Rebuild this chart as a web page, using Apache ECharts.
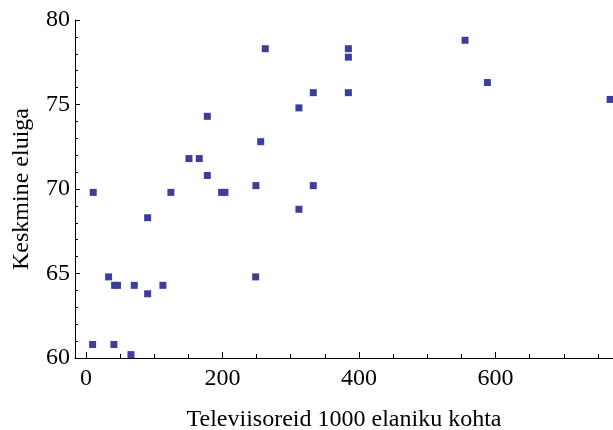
<!DOCTYPE html>
<html>
<head>
<meta charset="utf-8">
<script src="https://cdn.jsdelivr.net/npm/echarts@6/dist/echarts.min.js"></script>
<style>
html,body{margin:0;padding:0;background:#fff;}
#chart{width:613px;height:430px;}
</style>
</head>
<body>
<div id="chart"></div>
<script>
const tvPer1000 = [10.7, 90.4, 124.5, 150.9, 166, 177.8, 177.8, 198.8, 203.7, 249, 256, 262.7, 312, 312, 333, 333,
  33.2, 42, 46.3, 70.8, 90.4, 112.8, 9.8, 41, 66, 248.6, 384.4, 384.4, 384.4, 555.3, 588, 767.8];
const lifeExpectancy = [69.8, 68.3, 69.8, 71.8, 71.8, 74.3, 70.8, 69.8, 69.8, 70.2, 72.8, 78.3, 74.8, 68.8, 75.7, 70.2,
  64.8, 64.3, 64.3, 64.3, 63.8, 64.3, 60.8, 60.8, 60.2, 64.8, 78.3, 77.8, 75.7, 78.8, 76.3, 75.3];
const xMajorTicks = [0, 200, 400, 600];
const xMinorTicks = [50, 100, 150, 250, 300, 350, 450, 500, 550, 650, 700, 750];
const xTitle = 'Televiisoreid 1000 elaniku kohta';
const yTitle = 'Keskmine eluiga';

const points = tvPer1000.map((x, i) => [x, lifeExpectancy[i]]);
const font = '"Liberation Serif", "Times New Roman", serif';
const chart = echarts.init(document.getElementById('chart'), null, {renderer: 'canvas'});
chart.setOption({
  animation: false,
  grid: {left: 75, right: 0, top: 20, bottom: 72, containLabel: false, outerBoundsMode: 'none'},
  xAxis: [{
    type: 'value', min: -16, max: 772, position: 'bottom',
    name: xTitle, nameLocation: 'middle', nameGap: 50,
    nameTextStyle: {fontFamily: font, fontSize: 24, color: '#000'},
    axisLine: {show: true, onZero: false, lineStyle: {color: '#000', width: 1}},
    axisTick: {show: true, inside: true, length: 6, customValues: xMajorTicks, lineStyle: {color: '#000'}},
    axisLabel: {show: true, customValues: xMajorTicks, margin: 9, fontFamily: font, fontSize: 24, color: '#000'},
    splitLine: {show: false}
  }, {
    type: 'value', min: -16, max: 772, position: 'bottom', offset: 0,
    axisLine: {show: false, onZero: false},
    axisTick: {show: true, inside: true, length: 4, customValues: xMinorTicks, lineStyle: {color: '#000'}},
    axisLabel: {show: false},
    splitLine: {show: false}
  }],
  yAxis: {
    type: 'value', min: 60, max: 80, interval: 5,
    name: yTitle, nameLocation: 'middle', nameGap: 41, nameRotate: 90,
    nameTextStyle: {fontFamily: font, fontSize: 24, color: '#000'},
    axisLine: {show: true, onZero: false, lineStyle: {color: '#000', width: 1}},
    axisTick: {show: true, inside: true, length: 5, lineStyle: {color: '#000'}},
    minorTick: {show: true, splitNumber: 5, length: 3, lineStyle: {color: '#000'}},
    axisLabel: {margin: 5, fontFamily: font, fontSize: 24, color: '#000'},
    splitLine: {show: false},
    minorSplitLine: {show: false}
  },
  series: [{
    type: 'scatter', xAxisIndex: 0, symbol: 'rect', symbolSize: 7,
    itemStyle: {color: '#3d3d9e', opacity: 1},
    data: points
  }]
});
</script>
</body>
</html>
